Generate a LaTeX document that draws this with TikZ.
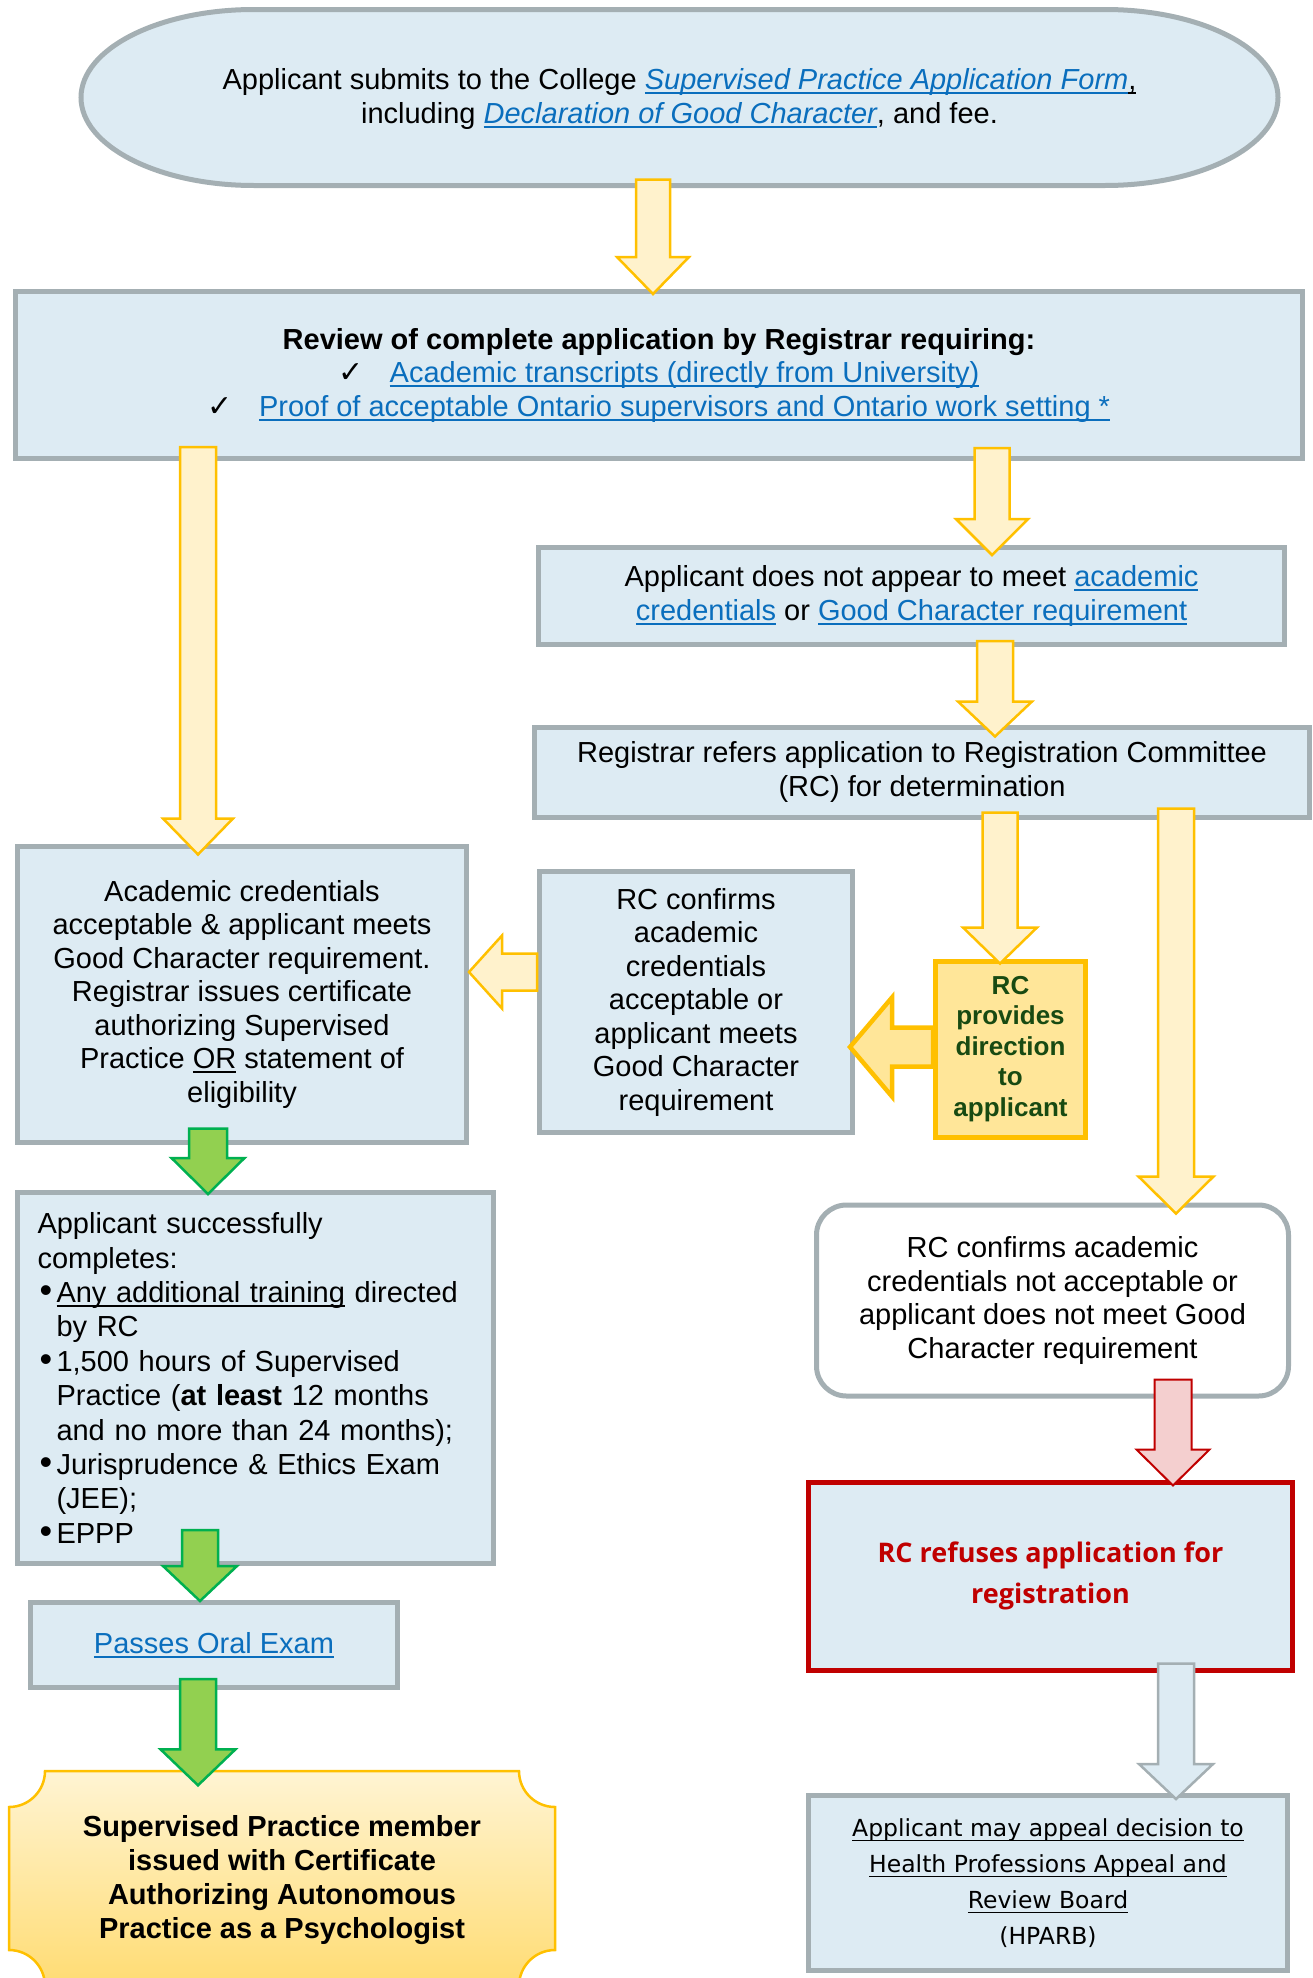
\documentclass[tikz,border=0pt]{standalone}
\usepackage{fontspec}
\setmainfont{Liberation Sans}
\newfontfamily\symfont{DejaVu Sans}
\newfontfamily\appealfont{DejaVu Sans}
\newfontfamily\refusefont{Open Sans}
\usetikzlibrary{calc}

\definecolor{boxfill}{HTML}{DDEBF3}
\definecolor{boxline}{HTML}{A4AFB3}
\definecolor{linkblue}{HTML}{0A6EBD}
\definecolor{ylwfill}{HTML}{FFF2CC}
\definecolor{gold}{HTML}{FFC000}
\definecolor{goldfill}{HTML}{FFE699}
\definecolor{grnfill}{HTML}{92D050}
\definecolor{grnline}{HTML}{00B050}
\definecolor{redline}{HTML}{C00000}
\definecolor{redfill}{HTML}{F4CFCF}
\definecolor{darkgrn}{HTML}{184A12}
\definecolor{plaquetop}{HTML}{FFF4D3}
\definecolor{plaquebot}{HTML}{FFDC73}

\newcommand{\ulthick}{1.8pt}
\newcommand{\uln}[1]{\leavevmode\setbox0\hbox{#1}\rlap{\rule[-4.5pt]{\wd0}{\ulthick}}\box0\relax}
\newcommand{\lnk}[1]{{\color{linkblue}\uln{#1}}}
\newcommand{\lnkit}[1]{{\color{linkblue}\itshape\uln{#1}}}
\newcommand{\chk}{{\symfont\fontsize{30}{30}\selectfont ✓}\hspace{26pt}}
\newcommand{\bul}{\par\hangindent=19pt\hangafter=1\noindent\makebox[19pt][l]{\hspace{2pt}{\fontsize{36}{30}\selectfont\textbullet}}}

% block arrow pointing down: [style]{x}{from}{to}{shaft half}{head half}{head length}
\newcommand{\varr}[7][]{%
  \draw[#1] let \p1=(#3), \p2=(#4) in
    (#2pt-#5pt,\y1) -- (#2pt+#5pt,\y1) -- (#2pt+#5pt,\y2+#7pt) -- (#2pt+#6pt,\y2+#7pt)
    -- (#2pt,\y2) -- (#2pt-#6pt,\y2+#7pt) -- (#2pt-#5pt,\y2+#7pt) -- cycle;}
% block arrow pointing left: [style]{y}{from}{to}{shaft half}{head half}{head length}
\newcommand{\harr}[7][]{%
  \draw[#1] let \p1=(#3), \p2=(#4) in
    (\x1,-#2pt+#5pt) -- (\x2+#7pt,-#2pt+#5pt) -- (\x2+#7pt,-#2pt+#6pt) -- (\x2,-#2pt)
    -- (\x2+#7pt,-#2pt-#6pt) -- (\x2+#7pt,-#2pt-#5pt) -- (\x1,-#2pt-#5pt) -- cycle;}

\begin{document}
\begin{tikzpicture}[x=1pt, y=-1pt,
  txt/.style={font=\fontsize{29}{33.5}\selectfont},
  box/.style={txt, draw=boxline, line width=5pt, fill=boxfill, align=center, inner sep=0pt},
  yarr/.style={fill=ylwfill, draw=gold, line width=2.5pt},
  garr/.style={fill=grnfill, draw=grnline, line width=2.5pt},
  rarr/.style={fill=redfill, draw=redline, line width=2pt},
  barr/.style={fill=boxfill, draw=boxline, line width=2.5pt},
  goldarr/.style={fill=goldfill, draw=gold, line width=4.5pt}]
\useasboundingbox (0,0) rectangle (1312,1978);

% top: application submitted
\draw[fill=boxfill, draw=boxline, line width=5pt]
  (254,9.5) -- (1105,9.5) arc[start angle=90, end angle=-90, x radius=173pt, y radius=88pt]
  -- (254,185.5) arc[start angle=270, end angle=90, x radius=173pt, y radius=88pt] -- cycle;
\node[txt, align=center, minimum width=1197, minimum height=181, inner sep=0pt] (apply) at (679.5,99)
  {Applicant submits to the College \lnkit{Supervised Practice Application Form}\uln{,}\\
   including \lnkit{Declaration of Good Character}, and fee.};

% review by Registrar
\node[box, minimum width=1287, minimum height=167] (review) at (659,375)
  {\textbf{Review of complete application by Registrar requiring:}\\
   \chk\lnk{Academic transcripts (directly from University)}\\
   \chk\lnk{Proof of acceptable Ontario supervisors and Ontario work setting *}};

% right branch
\node[box, minimum width=746, minimum height=97] (nomeet) at (911.5,596)
  {Applicant does not appear to meet \lnk{academic}\\
   \lnk{credentials} or \lnk{Good Character requirement}};
\node[box, minimum width=775, minimum height=90] (refer) at (922,772)
  {Registrar refers application to Registration Committee\\(RC) for determination};

% middle row
\node[box, minimum width=449, minimum height=296] (academic) at (242,994)
  {Academic credentials\\acceptable \& applicant meets\\Good Character requirement.\\
   Registrar issues certificate\\authorizing Supervised\\Practice \uln{OR} statement of\\eligibility};
\node[box, minimum width=313, minimum height=261] (confirm) at (696,1002)
  {RC confirms\\academic\\credentials\\acceptable or\\applicant meets\\Good Character\\requirement};
\node[draw=gold, line width=5pt, fill=goldfill, align=center, inner sep=0pt,
  minimum width=150, minimum height=176, text=darkgrn,
  font=\fontsize{26}{30.5}\selectfont\bfseries] (direct) at (1010.5,1049)
  {RC\\provides\\direction\\to\\applicant};

% refusal branch
\node[box, fill=white, rounded corners=30pt, minimum width=472, minimum height=191] (notok) at (1052.5,1300.5)
  {RC confirms academic\\credentials not acceptable or\\applicant does not meet Good\\Character requirement};
\node[box, draw=redline, minimum width=484, minimum height=188, text=redline,
  font=\refusefont\bfseries\fontsize{27}{41}\selectfont] (refuse) at (1050.5,1576)
  {RC refuses application for\\registration};
\node[box, minimum width=479, minimum height=175,
  font=\appealfont\fontsize{23.5}{36}\selectfont\renewcommand{\ulthick}{1.2pt}] (appeal) at (1048,1883)
  {\uln{Applicant may appeal decision to}\\\uln{Health Professions Appeal and}\\
   \uln{Review Board}\\(HPARB)};

% left column
\node[box, minimum width=476, minimum height=371, text width=436, align=left,
  font=\fontsize{29}{34.4}\selectfont] (success) at (255.5,1378)
  {Applicant successfully\newline completes:
   \bul\uln{Any additional training} directed\newline by RC
   \bul 1,500 hours of Supervised\newline Practice (\textbf{at least} 12 months\newline and no more than 24 months);
   \bul Jurisprudence \& Ethics Exam\newline (JEE);
   \bul EPPP};
\node[box, minimum width=367, minimum height=85] (oral) at (214,1645)
  {\lnk{Passes Oral Exam}};

% certificate
\draw[top color=plaquetop, bottom color=plaquebot, draw=gold, line width=2.5pt]
  (45,1771) -- (519,1771) arc[start angle=180, end angle=270, radius=36pt]
  -- (555,1950) arc[start angle=90, end angle=180, radius=36pt]
  -- (45,1986) arc[start angle=0, end angle=90, radius=36pt]
  -- (9,1807) arc[start angle=270, end angle=360, radius=36pt] -- cycle;
\node[txt, align=center, font=\fontsize{29}{34}\selectfont\bfseries,
  minimum width=546, minimum height=215, inner sep=0pt] (final) at (282,1880)
  {Supervised Practice member\\issued with Certificate\\Authorizing Autonomous\\Practice as a Psychologist};

% arrows
\varr[yarr]{653}{$(apply.south)+(0,-10)$}{$(review.north)+(0,5)$}{17}{36}{37}
\varr[yarr]{198}{$(review.south)+(0,-14)$}{$(academic.north)+(0,11)$}{18}{35}{36}
\varr[yarr]{992}{$(review.south)+(0,-13)$}{$(nomeet.north)+(0,10)$}{17.5}{36}{36}
\varr[yarr]{995}{$(nomeet.south)+(0,-6)$}{$(refer.north)+(0,12)$}{18}{37}{35}
\varr[yarr]{1000}{$(refer.south)+(0,-7)$}{$(direct.north)+(0,5)$}{17.5}{37}{36}
\varr[yarr]{1176}{$(refer.south)+(0,-11)$}{$(notok.north)+(0,11)$}{18}{37.5}{37}
\harr[yarr]{972}{confirm.west}{academic.east}{18.5}{36.5}{33}
\harr[goldarr]{1047}{direct.west}{$(confirm.east)+(-5,0)$}{19.5}{49.5}{42}
\varr[garr]{208}{$(academic.south)+(0,-16)$}{$(success.north)+(0,4)$}{19}{36.5}{36}
\varr[garr]{200}{$(success.south)+(0,-36)$}{$(oral.north)+(0,1)$}{18}{37}{35}
\varr[garr]{198}{$(oral.south)+(0,-11)$}{$(final.north)+(0,13)$}{18}{37.5}{36}
\varr[rarr]{1173}{$(notok.south)+(0,-19)$}{$(refuse.north)+(0,6)$}{18.5}{36.5}{36}
\varr[barr]{1176}{$(refuse.south)+(0,-9)$}{$(appeal.north)+(0,6)$}{18}{37}{35}
\end{tikzpicture}
\end{document}
